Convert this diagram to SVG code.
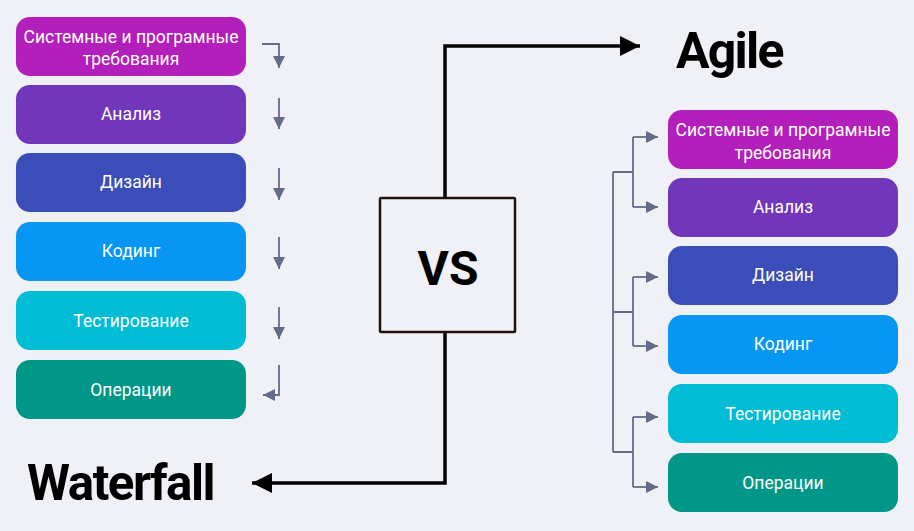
<svg xmlns="http://www.w3.org/2000/svg" width="914" height="531" viewBox="0 0 914 531">
<defs>
<style>
.bx{stroke:none}
.lb{font-family:Roboto,"Liberation Sans",sans-serif;font-weight:400;font-size:17.5px;fill:#ffffff;text-anchor:middle}
.sm{fill:none;stroke:#646b88;stroke-width:1.8}
.bg{fill:none;stroke:#000;stroke-width:3.5}
.title{font-family:Roboto,"Liberation Sans",sans-serif;font-weight:700;fill:#000}
</style>
<marker id="ahs" viewBox="0 0 10 10" refX="10" refY="5" markerWidth="12" markerHeight="12" markerUnits="userSpaceOnUse" orient="auto"><path d="M0,0 L10,5 L0,10 z" fill="#646b88"/></marker>
<marker id="big" viewBox="0 0 10 10" refX="10" refY="5" markerWidth="20" markerHeight="20" markerUnits="userSpaceOnUse" orient="auto"><path d="M0,0 L10,5 L0,10 z" fill="#000"/></marker>
</defs>
<rect width="914" height="531" fill="#f0f1f6"/>

<g id="connectors">
<path class="sm" d="M262,44 H279 V68" marker-end="url(#ahs)"/>
<path class="sm" d="M279,98 V129" marker-end="url(#ahs)"/>
<path class="sm" d="M279,168 V200" marker-end="url(#ahs)"/>
<path class="sm" d="M279,237 V269" marker-end="url(#ahs)"/>
<path class="sm" d="M279,307 V339" marker-end="url(#ahs)"/>
<path class="sm" d="M279,365 V395 H263" marker-end="url(#ahs)"/>

<path class="sm" d="M613,172 V452 M613,172 H633 M613,312 H633 M613,452 H633 M633,137 V207 M633,277 V346 M633,417 V487"/>
<path class="sm" d="M633,137 H658" marker-end="url(#ahs)"/>
<path class="sm" d="M633,207 H658" marker-end="url(#ahs)"/>
<path class="sm" d="M633,277 H658" marker-end="url(#ahs)"/>
<path class="sm" d="M633,346 H658" marker-end="url(#ahs)"/>
<path class="sm" d="M633,417 H658" marker-end="url(#ahs)"/>
<path class="sm" d="M633,487 H658" marker-end="url(#ahs)"/>

<path class="bg" d="M445,197 V46 H640" marker-end="url(#big)"/>
<path class="bg" d="M445,333 V483 H252" marker-end="url(#big)"/>
</g>

<g id="vs">
<rect x="380" y="198" width="135" height="134" fill="none" stroke="#1c140c" stroke-width="2.5" rx="1"/>
<text class="title" x="448" y="285" font-size="48" text-anchor="middle">VS</text>
</g>
<g id="agile"><text class="title" x="676" y="68" font-size="50" letter-spacing="-1.8">Agile</text></g>
<g id="waterfall"><text class="title" x="27" y="500" font-size="50" letter-spacing="-1.5" textLength="187" lengthAdjust="spacingAndGlyphs">Waterfall</text></g>

<g id="l1"><rect class="bx" x="16" y="17" width="230" height="59" rx="14" fill="#b31fba"/><text class="lb" x="131" y="43">Системные и програмные</text><text class="lb" x="131" y="65">требования</text></g>
<g id="l2"><rect class="bx" x="16" y="85" width="230" height="59" rx="14" fill="#7136b9"/><text class="lb" x="131" y="120">Анализ</text></g>
<g id="l3"><rect class="bx" x="16" y="153" width="230" height="59" rx="14" fill="#3a4db8"/><text class="lb" x="131" y="188">Дизайн</text></g>
<g id="l4"><rect class="bx" x="16" y="222" width="230" height="59" rx="14" fill="#0896f3"/><text class="lb" x="131" y="257">Кодинг</text></g>
<g id="l5"><rect class="bx" x="16" y="291" width="230" height="59" rx="14" fill="#00bcd5"/><text class="lb" x="131" y="327">Тестирование</text></g>
<g id="l6"><rect class="bx" x="16" y="360" width="230" height="59" rx="14" fill="#009788"/><text class="lb" x="131" y="396">Операции</text></g>

<g id="r1"><rect class="bx" x="668" y="110" width="230" height="59" rx="14" fill="#b31fba"/><text class="lb" x="783" y="136">Системные и програмные</text><text class="lb" x="783" y="159">требования</text></g>
<g id="r2"><rect class="bx" x="668" y="178" width="230" height="59" rx="14" fill="#7136b9"/><text class="lb" x="783" y="213">Анализ</text></g>
<g id="r3"><rect class="bx" x="668" y="246" width="230" height="59" rx="14" fill="#3a4db8"/><text class="lb" x="783" y="281">Дизайн</text></g>
<g id="r4"><rect class="bx" x="668" y="315" width="230" height="59" rx="14" fill="#0896f3"/><text class="lb" x="783" y="350">Кодинг</text></g>
<g id="r5"><rect class="bx" x="668" y="384" width="230" height="59" rx="14" fill="#00bcd5"/><text class="lb" x="783" y="420">Тестирование</text></g>
<g id="r6"><rect class="bx" x="668" y="453" width="230" height="59" rx="14" fill="#009788"/><text class="lb" x="783" y="489">Операции</text></g>
</svg>
